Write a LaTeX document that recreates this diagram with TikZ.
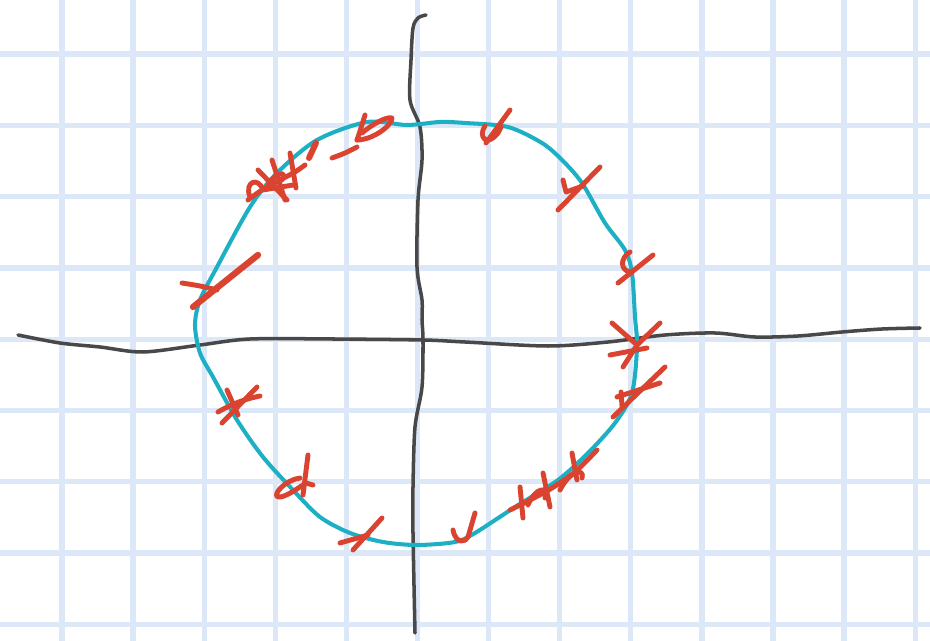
\documentclass[tikz,border=0pt]{standalone}
\usepackage{tikz}
\definecolor{paper}{HTML}{FFFFFF}
\definecolor{gridblue}{HTML}{DCE8F8}
\definecolor{axisgray}{HTML}{484848}
\definecolor{ringcyan}{HTML}{1DB0C4}
\definecolor{markred}{HTML}{DA4330}
\tikzset{
  gridline/.style={draw=gridblue, line width=3pt},
  axisline/.style={draw=axisgray, line width=2pt, line cap=round, line join=round},
  ringline/.style={draw=ringcyan, line width=2.3pt, line join=round},
  markstroke/.style={draw=markred, line width=2.8pt, line cap=round, line join=round}
}

\begin{document}
\begin{tikzpicture}[x=0.02cm,y=-0.02cm]
  \fill[paper] (0,0) rectangle (930,641);
  \useasboundingbox (0,0) rectangle (930,641);

  % squared paper
  \foreach \gx in {0,...,12}
    \draw[gridline] ({62+71.1*\gx},0) -- ++(0,641);
  \foreach \gy in {0,...,8}
    \draw[gridline] (0,{54+71.3*\gy}) -- ++(930,0);

  % axes
  \draw[axisline] plot[smooth] coordinates {(18,335) (60,343) (100,347) (143,352) (200,345)
    (250,339) (333,339) (423,340) (465,342) (548,346) (608,342) (665,335) (715,333)
    (755,337) (798,336) (842,332) (882,329) (920,328)};
  \draw[axisline] plot[smooth] coordinates {(426,15) (418,18) (413,28) (411,60) (410,100)
    (420,127) (422,160) (418,200) (417,267) (422,300) (422,320) (423,340) (422,387)
    (415,427) (413,487) (413,533) (415,633)};

  % unit circle
  \draw[ringline] plot[smooth cycle] coordinates {(407,125) (440,122) (465,123) (508,127)
    (542,143) (562,160) (582,183) (605,223) (625,250) (632,273) (635,317) (637,347)
    (632,393) (615,423) (588,453) (558,480) (515,507) (475,533) (455,542) (417,545)
    (383,542) (350,533) (320,517) (293,490) (263,457) (237,420) (213,377) (200,353)
    (195,325) (200,300) (217,267) (250,207) (277,173) (317,140) (367,122)};

  % crosses, upper left
  \draw[markstroke] plot[smooth] coordinates {(248,200) (262,190) (280,180) (295,172) (305,165)};
  \draw[markstroke] (258,170) -- (287,200);
  \draw[markstroke] (272,160) -- (285,200);
  \draw[markstroke] (290,153) -- (296,188);
  \draw[markstroke] (250,197) .. controls (244,182) and (258,176) .. (263,190) -- (293,185);
  \draw[markstroke] (268,185) .. controls (275,172) and (288,170) .. (282,180);
  \draw[markstroke, line width=3.4pt] (309,158) -- (316,143);
  \draw[markstroke] plot[smooth] coordinates {(332,158) (345,153) (357,147)};
  \draw[markstroke] plot[smooth] coordinates {(365,115) (361,128) (357,140)};
  \draw[markstroke] (357,140) .. controls (372,140) and (392,126) .. (392,118)
    .. controls (386,116) and (370,126) .. (362,133);
  \draw[markstroke] plot[smooth] coordinates {(182,283) (200,286) (217,290)};
  \draw[markstroke, line width=3.6pt] (193,307) -- (258,255);

  % crosses, upper right
  \draw[markstroke] (486,143) -- (510,110);
  \draw[markstroke] (485,126) .. controls (478,136) and (486,148) .. (498,133) -- (501,127);
  \draw[markstroke] (558,210) -- (600,167);
  \draw[markstroke] (563,180) -- (566,192) -- (583,186);
  \draw[markstroke] (618,283) -- (653,255);
  \draw[markstroke] (630,252) .. controls (620,258) and (620,270) .. (630,272);
  \draw[markstroke] (612,323) -- (637,345);
  \draw[markstroke] (660,323) -- (637,345);
  \draw[markstroke] (610,355) -- (647,348);
  \draw[markstroke] (623,367) -- (637,345);
  \draw[markstroke] (613,417) -- (665,367);
  \draw[markstroke] (617,397) -- (660,383);
  \draw[markstroke] (621,392) -- (622,406);

  % crosses, lower right
  \draw[markstroke] plot[smooth] coordinates {(510,510) (530,500) (552,488) (575,472) (597,450)};
  \draw[markstroke] (520,487) -- (523,518);
  \draw[markstroke] (543,473) -- (550,507);
  \draw[markstroke] (572,453) -- (577,480);
  \draw[markstroke] (528,505) .. controls (535,488) and (548,485) .. (545,498);
  \draw[markstroke] (560,490) .. controls (570,470) and (585,468) .. (582,478);
  \draw[markstroke] (453,530) .. controls (456,545) and (466,542) .. (468,537) -- (475,513);

  % crosses, lower left
  \draw[markstroke] (218,412) .. controls (235,402) and (250,398) .. (260,396);
  \draw[markstroke] (222,423) -- (257,387);
  \draw[markstroke] (227,390) -- (238,415);
  \draw[markstroke] (300,478) .. controls (285,480) and (272,495) .. (278,497)
    .. controls (285,498) and (298,488) .. (306,483) -- (313,485);
  \draw[markstroke] (308,455) -- (303,495);
  \draw[markstroke] (353,550) -- (382,518);
  \draw[markstroke] (340,543) -- (368,535);
\end{tikzpicture}
\end{document}
